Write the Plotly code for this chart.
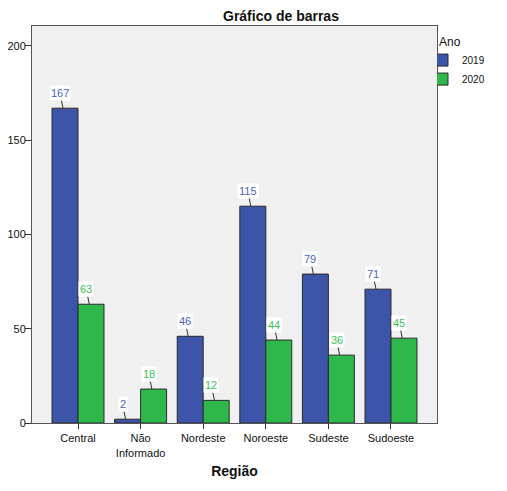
import plotly.graph_objects as go

regions = ["Central", "Não<br>Informado", "Nordeste", "Noroeste", "Sudeste", "Sudoeste"]
values_2019 = [167, 2, 46, 115, 79, 71]
values_2020 = [63, 18, 12, 44, 36, 45]
y_ticks = [0, 50, 100, 150, 200]

blue = "#3D55A8"
green = "#2EB84B"
blue_txt = "#4A62B8"
green_txt = "#3CC25A"
font = "Liberation Sans, Arial, sans-serif"

fig = go.Figure()
fig.add_bar(x=regions, y=values_2019, name="2019", offsetgroup=0,
            marker=dict(color=blue, line=dict(color="#2A2A2A", width=1)))
fig.add_bar(x=regions, y=values_2020, name="2020", offsetgroup=1,
            marker=dict(color=green, line=dict(color="#2A2A2A", width=1)))

annots = []
for i, (a, b) in enumerate(zip(values_2019, values_2020)):
    for v, xs, col in ((a, -0.21, blue_txt), (b, 0.21, green_txt)):
        annots.append(dict(x=i + xs - 0.03, y=v, xref="x", yref="y", text=str(v),
                           showarrow=True, arrowhead=0, arrowwidth=1, arrowcolor="#333333",
                           ax=-3, ay=-15, standoff=0, bgcolor="white",
                           font=dict(color=col, size=11, family=font), borderpad=1))

annots.append(dict(x=0.615, y=1.0, xref="paper", yref="paper", yanchor="bottom",
                   yshift=0, text="<b>Gráfico de barras</b>", showarrow=False,
                   font=dict(size=14, color="#111111", family=font)))

# page body has an 8px margin, so the figure is sized/offset to compensate
fig.update_layout(
    width=499, height=483,
    margin=dict(l=24, r=70, t=18, b=68, autoexpand=False),
    paper_bgcolor="white", plot_bgcolor="#F0F0F0",
    barmode="group", bargap=0.17, bargroupgap=0,
    font=dict(family=font, size=11, color="#111111"),
    showlegend=True,
    legend=dict(title=dict(text="Ano", font=dict(size=12)), x=1.0, y=0.99,
                xanchor="left", yanchor="top", font=dict(size=10),
                bgcolor="rgba(0,0,0,0)",
                tracegroupgap=0, itemwidth=30, indentation=-15),
    annotations=annots,
    xaxis=dict(range=[-0.735, 5.735], showline=True, linecolor="#555555", mirror=True,
               ticks="outside", ticklen=5, tickcolor="#333333", automargin=False,
               title=dict(text="<b>Região</b>", font=dict(size=14), standoff=8),
               showgrid=False),
    yaxis=dict(range=[0, 210.6], tickvals=y_ticks, showline=True, linecolor="#555555",
               mirror=True, ticks="outside", ticklen=6, tickcolor="#333333",
               ticklabelstandoff=-3, tickfont=dict(size=11),
               automargin=False, showgrid=False, zeroline=False),
)

fig.write_html("out.html")
